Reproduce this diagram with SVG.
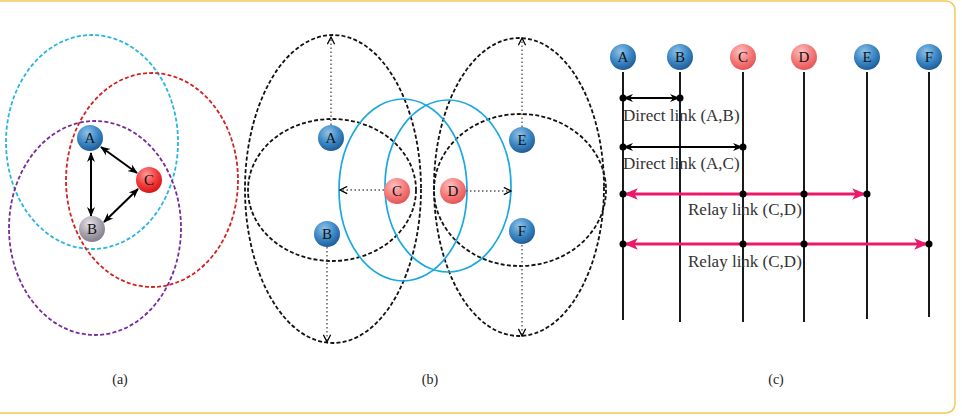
<svg xmlns="http://www.w3.org/2000/svg" width="962" height="416" viewBox="0 0 962 416">
<defs>
<radialGradient id="gBlue" cx="0.4" cy="0.3" r="0.7">
<stop offset="0" stop-color="#8fc3ea"/><stop offset="0.6" stop-color="#3a86c4"/><stop offset="1" stop-color="#1f5e99"/>
</radialGradient>
<radialGradient id="gRed" cx="0.4" cy="0.3" r="0.7">
<stop offset="0" stop-color="#ff9a9a"/><stop offset="0.6" stop-color="#f23a3a"/><stop offset="1" stop-color="#d61818"/>
</radialGradient>
<radialGradient id="gPink" cx="0.4" cy="0.3" r="0.7">
<stop offset="0" stop-color="#ffc2c2"/><stop offset="0.6" stop-color="#f47a7a"/><stop offset="1" stop-color="#e55656"/>
</radialGradient>
<radialGradient id="gGrey" cx="0.4" cy="0.3" r="0.7">
<stop offset="0" stop-color="#e6e3ea"/><stop offset="0.6" stop-color="#a8a2ad"/><stop offset="1" stop-color="#857e8c"/>
</radialGradient>
<marker id="mBlk" viewBox="0 0 10 10" refX="9" refY="5" markerWidth="10" markerHeight="10" markerUnits="userSpaceOnUse" orient="auto-start-reverse">
<path d="M0,1 L10,5 L0,9 L3,5 Z" fill="#000"/>
</marker>
<marker id="mOpen" viewBox="0 0 10 10" refX="9" refY="5" markerWidth="9" markerHeight="9" markerUnits="userSpaceOnUse" orient="auto">
<path d="M1,1 L9,5 L1,9" fill="none" stroke="#000" stroke-width="1.4"/>
</marker>
<marker id="mPink" viewBox="0 0 12 12" refX="11" refY="6" markerWidth="14" markerHeight="14" markerUnits="userSpaceOnUse" orient="auto-start-reverse">
<path d="M0,1 L12,6 L0,11 L3,6 Z" fill="#ea1a6a"/>
</marker>
</defs>
<style>
.dash{fill:none;stroke-width:1.8;stroke-dasharray:4 2.2}
.blk{stroke:#111}
.cyan{fill:none;stroke:#1aa8e0;stroke-width:1.7}
.dot{fill:none;stroke:#555;stroke-width:1.4;stroke-dasharray:1.5 2.5}
.arr{stroke:#000;stroke-width:2;fill:none}
.life{stroke:#1a1a1a;stroke-width:2}
.rel{stroke:#ea1a6a;stroke-width:3.2}
.nl{font-family:"Liberation Serif",serif;font-size:15px;fill:#111;text-anchor:middle}
.lbl{font-family:"Liberation Serif",serif;font-size:17px;fill:#333}
.cap{font-family:"Liberation Serif",serif;font-size:14px;fill:#222;text-anchor:middle}
</style>
<rect x="-10" y="1" width="965" height="412" rx="9" fill="#fff" stroke="#f2c95a" stroke-width="1.5"/>

<!-- Panel (a) -->
<g id="panel-a-ranges">
<ellipse class="dash" cx="92" cy="142" rx="86" ry="107" stroke="#25b7de"/>
<ellipse class="dash" cx="152" cy="180" rx="86" ry="107" stroke="#d42222"/>
<ellipse class="dash" cx="95" cy="228" rx="86" ry="107" stroke="#7a2a9a"/>
</g>
<g id="connectors-a">
<line class="arr" x1="91" y1="153" x2="91" y2="216" marker-start="url(#mBlk)" marker-end="url(#mBlk)"/>
<line class="arr" x1="101" y1="147" x2="137" y2="173" marker-start="url(#mBlk)" marker-end="url(#mBlk)"/>
<line class="arr" x1="104" y1="222" x2="138" y2="189" marker-start="url(#mBlk)" marker-end="url(#mBlk)"/>
</g>
<g id="a-A"><circle cx="90" cy="138" r="13" fill="url(#gBlue)"/><text class="nl" x="90" y="143">A</text></g>
<g id="a-C"><circle cx="149" cy="180" r="13" fill="url(#gRed)"/><text class="nl" x="149" y="185">C</text></g>
<g id="a-B"><circle cx="92" cy="229" r="13" fill="url(#gGrey)"/><text class="nl" x="92" y="234">B</text></g>

<!-- Panel (b) -->
<g id="panel-b-ranges">
<ellipse class="dash blk" cx="333" cy="189" rx="88" ry="154"/>
<ellipse class="dash blk" cx="332" cy="190" rx="84" ry="71"/>
<ellipse class="dash blk" cx="519" cy="187" rx="85" ry="149"/>
<ellipse class="dash blk" cx="520" cy="190" rx="86" ry="76"/>
<ellipse class="cyan" cx="403" cy="190" rx="64" ry="91"/>
<ellipse class="cyan" cx="448" cy="186" rx="63" ry="86"/>
</g>
<g id="connectors-b">
<line class="dot" x1="331" y1="125" x2="331" y2="37" marker-end="url(#mOpen)"/>
<line class="dot" x1="327" y1="247" x2="327" y2="342" marker-end="url(#mOpen)"/>
<line class="dot" x1="384" y1="190" x2="340" y2="190" marker-end="url(#mOpen)"/>
<line class="dot" x1="466" y1="191" x2="511" y2="191" marker-end="url(#mOpen)"/>
<line class="dot" x1="522" y1="127" x2="522" y2="38" marker-end="url(#mOpen)"/>
<line class="dot" x1="522" y1="245" x2="522" y2="336" marker-end="url(#mOpen)"/>
</g>
<g id="b-A"><circle cx="331" cy="138" r="13" fill="url(#gBlue)"/><text class="nl" x="331" y="143">A</text></g>
<g id="b-B"><circle cx="327" cy="234" r="13" fill="url(#gBlue)"/><text class="nl" x="327" y="239">B</text></g>
<g id="b-C"><circle cx="397" cy="191" r="13" fill="url(#gPink)"/><text class="nl" x="397" y="196">C</text></g>
<g id="b-D"><circle cx="453" cy="191" r="13" fill="url(#gPink)"/><text class="nl" x="453" y="196">D</text></g>
<g id="b-E"><circle cx="522" cy="140" r="13" fill="url(#gBlue)"/><text class="nl" x="522" y="145">E</text></g>
<g id="b-F"><circle cx="522" cy="231" r="13" fill="url(#gBlue)"/><text class="nl" x="522" y="236">F</text></g>

<!-- Panel (c) -->
<g id="lifelines">
<line class="life" x1="623" y1="72" x2="623" y2="320"/>
<line class="life" x1="680" y1="72" x2="680" y2="322"/>
<line class="life" x1="743" y1="72" x2="743" y2="322"/>
<line class="life" x1="804" y1="72" x2="804" y2="322"/>
<line class="life" x1="867" y1="72" x2="867" y2="319"/>
<line class="life" x1="929" y1="72" x2="929" y2="317"/>
</g>
<g id="c-A"><circle cx="623" cy="57" r="13" fill="url(#gBlue)"/><text class="nl" x="623" y="62">A</text></g>
<g id="c-B"><circle cx="680" cy="57" r="13" fill="url(#gBlue)"/><text class="nl" x="680" y="62">B</text></g>
<g id="c-C"><circle cx="743" cy="57" r="13" fill="url(#gPink)"/><text class="nl" x="743" y="62">C</text></g>
<g id="c-D"><circle cx="804" cy="57" r="13" fill="url(#gPink)"/><text class="nl" x="804" y="62">D</text></g>
<g id="c-E"><circle cx="867" cy="57" r="13" fill="url(#gBlue)"/><text class="nl" x="867" y="62">E</text></g>
<g id="c-F"><circle cx="929" cy="57" r="13" fill="url(#gBlue)"/><text class="nl" x="929" y="62">F</text></g>
<g id="connectors-c">
<line class="arr" x1="624" y1="98" x2="679" y2="98" marker-start="url(#mBlk)" marker-end="url(#mBlk)"/>
<circle cx="623" cy="98" r="3.5"/><circle cx="680" cy="98" r="3.5"/>
<line class="arr" x1="624" y1="147" x2="742" y2="147" marker-start="url(#mBlk)" marker-end="url(#mBlk)"/>
<circle cx="623" cy="147" r="3.5"/><circle cx="743" cy="147" r="3.5"/>
<line class="rel" x1="625" y1="194" x2="865" y2="194" marker-start="url(#mPink)" marker-end="url(#mPink)"/>
<circle cx="623" cy="194" r="3.5"/><circle cx="743" cy="194" r="3.5"/><circle cx="804" cy="194" r="3.5"/><circle cx="867" cy="194" r="3.5"/>
<line class="rel" x1="625" y1="244" x2="927" y2="244" marker-start="url(#mPink)" marker-end="url(#mPink)"/>
<circle cx="623" cy="244" r="3.5"/><circle cx="743" cy="244" r="3.5"/><circle cx="804" cy="244" r="3.5"/><circle cx="929" cy="244" r="3.5"/>
</g>
<g id="c-labels">
<text class="lbl" x="623" y="121">Direct link (A,B)</text>
<text class="lbl" x="623" y="169">Direct link (A,C)</text>
<text class="lbl" x="688" y="215">Relay link (C,D)</text>
<text class="lbl" x="688" y="267">Relay link (C,D)</text>
</g>

<g id="captions">
<text class="cap" x="120" y="384">(a)</text>
<text class="cap" x="430" y="384">(b)</text>
<text class="cap" x="776" y="384">(c)</text>
</g>
</svg>
